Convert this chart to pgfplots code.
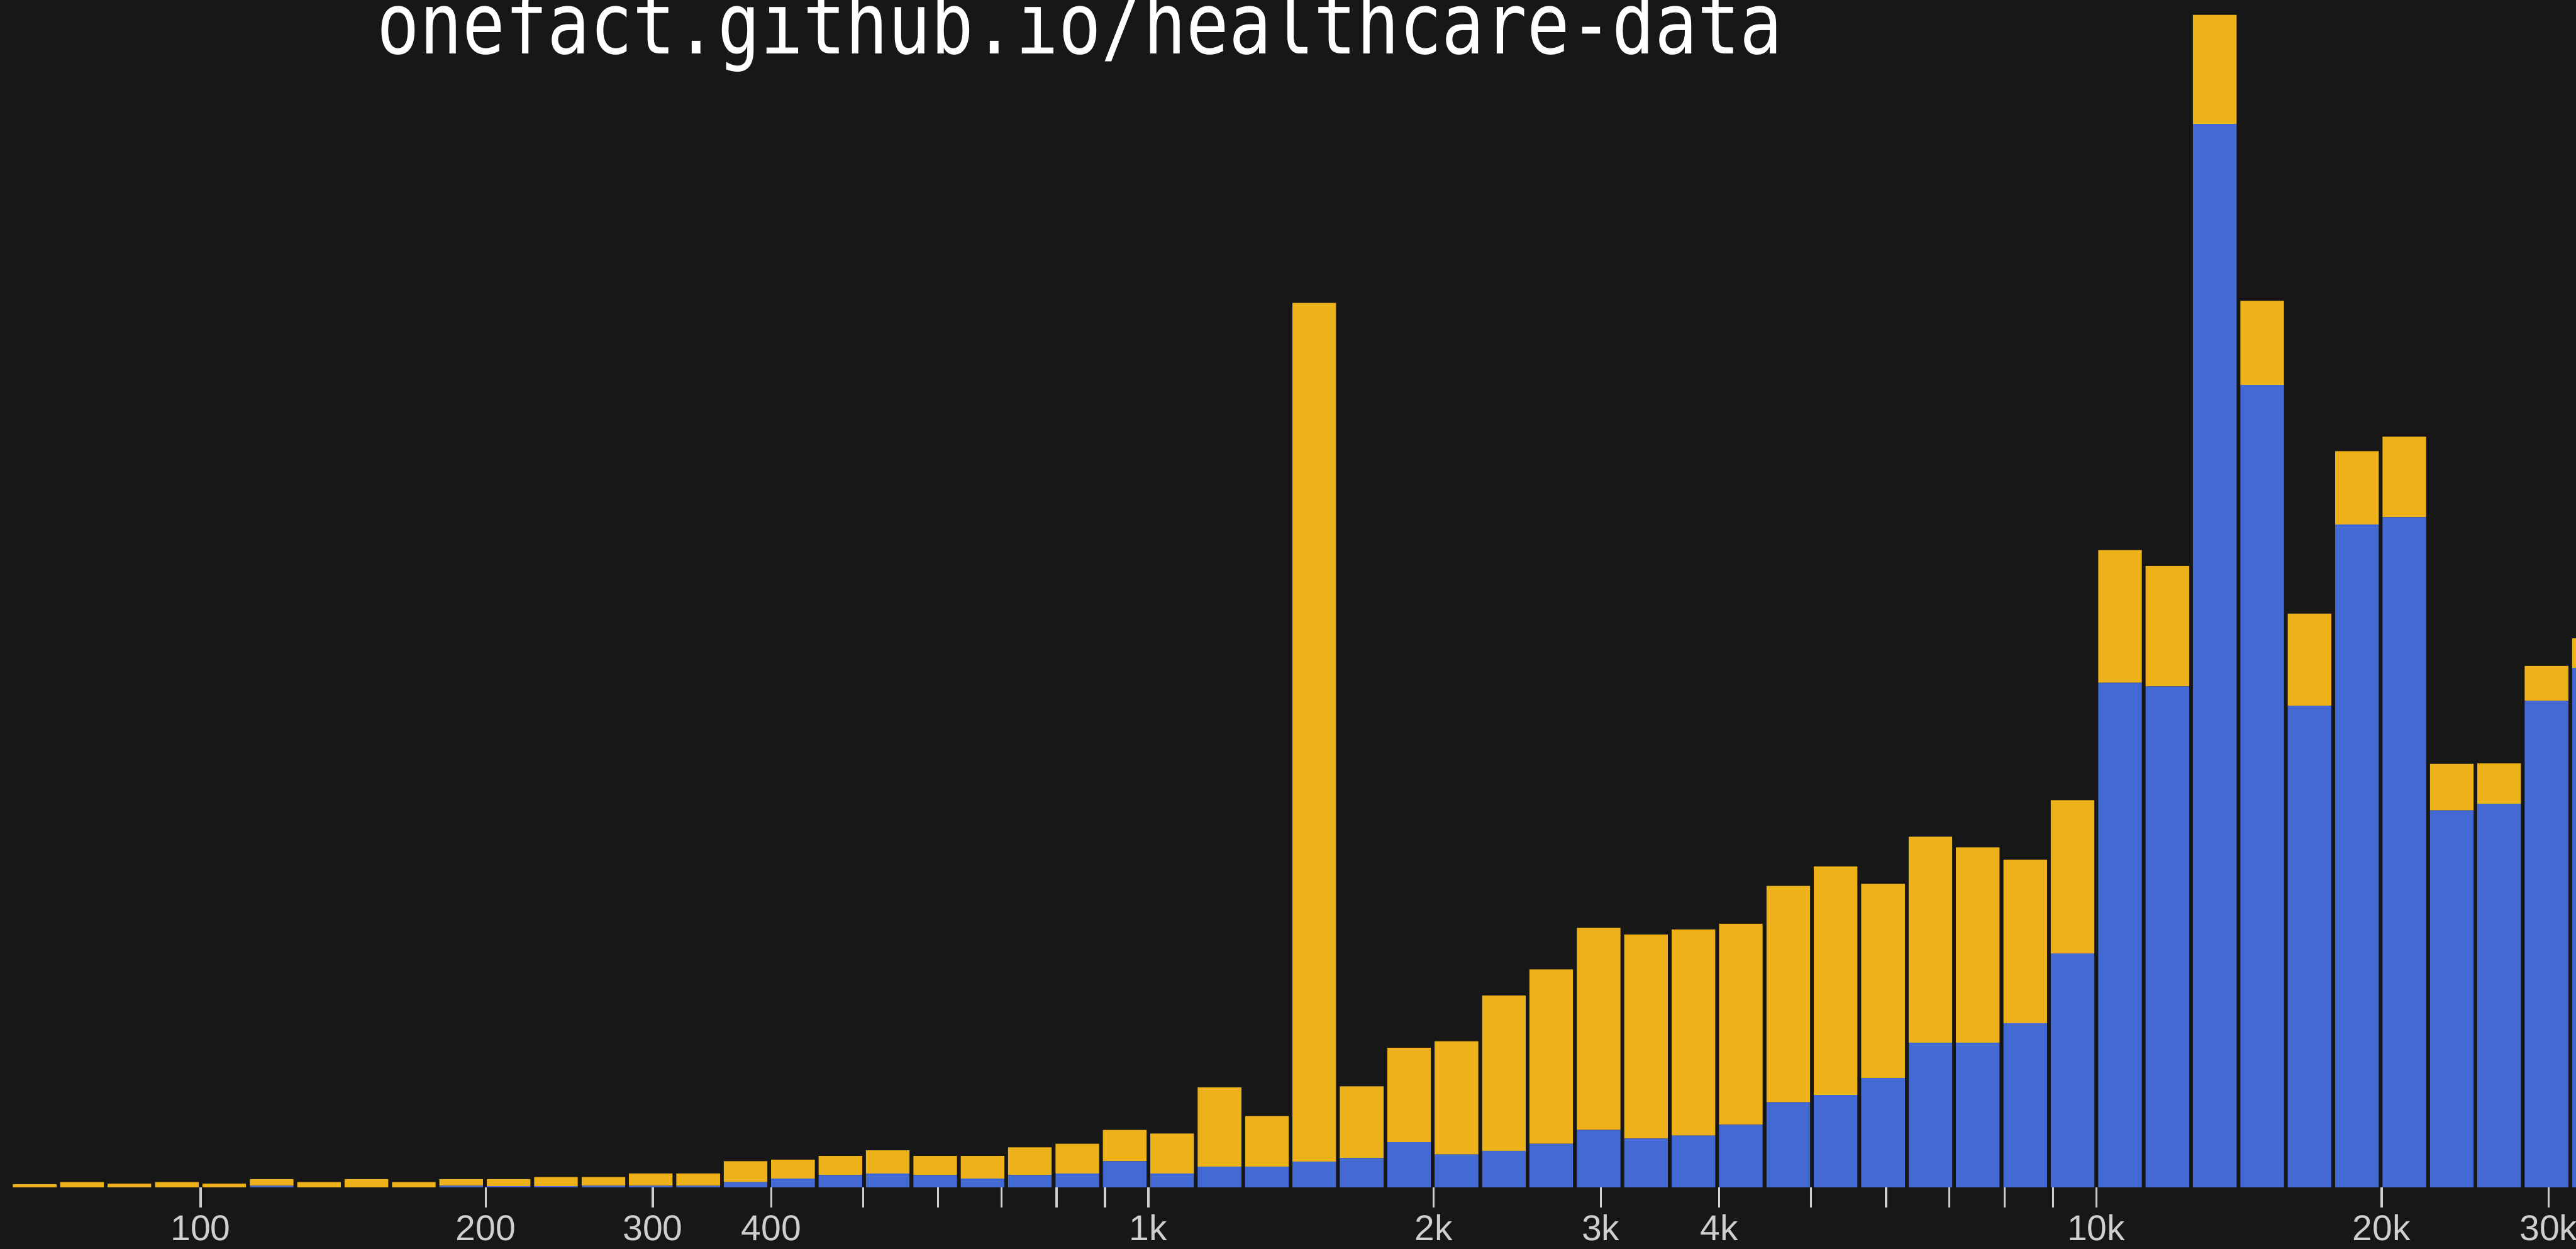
\documentclass[border=0pt]{standalone}
\usepackage{pgfplots}
\pgfplotsset{compat=1.18}
\usepackage{graphicx}
\usepackage{fontspec}
\newfontfamily\monofont{DejaVu Sans Mono}
\newfontfamily\labelfont{Liberation Sans}
\definecolor{bg}{HTML}{171717}
\definecolor{barblue}{HTML}{426AD2}
\definecolor{baryellow}{HTML}{EDB119}
\definecolor{tickgray}{HTML}{CFCFCF}
\begin{document}
\begin{tikzpicture}
\path[use as bounding box] (0,0) rectangle (502.5pt,243.6pt);
\clip (0,0) rectangle (502.5pt,243.6pt);
\fill[bg] (0,0) rectangle (502.5pt,243.6pt);
\begin{axis}[
  at={(0pt,12pt)}, anchor=south west,
  scale only axis, width=502.5pt, height=231.6pt,
  xmode=log, xmin=61.44, xmax=32076,
  ymin=0, ymax=2316,
  ybar stacked, bar width=8.5pt,
  axis line style={draw=none},
  ytick=\empty,
  xtick={100,200,300,400,500,600,700,800,900,1000,2000,3000,4000,5000,6000,7000,8000,9000,10000,20000,30000},
  xticklabels={100,200,300,400,,,,,,1k,2k,3k,4k,,,,,,10k,20k,30k},
  xminorticks=false, minor tick num=0,
  xtick pos=bottom, tick align=outside, major tick length=4pt,
  tick style={draw=tickgray, line width=0.4pt},
  xticklabel style={font=\labelfont\fontsize{7}{8}\selectfont, text=tickgray, anchor=base, yshift=-6.4pt, inner sep=0pt},
  clip=true,
]
\addplot[fill=barblue, draw=none] coordinates {
(66.834,0) (74.989,0) (84.140,0) (94.406,0) (105.93,0) (118.85,3) (133.35,0) (149.62,0) (167.88,0) (188.36,3)
(211.35,2) (237.14,2) (266.07,3) (298.54,3) (334.97,3) (375.84,10) (421.70,17) (473.15,24) (530.88,27) (595.66,24)
(668.34,17) (749.89,24) (841.40,27) (944.06,51) (1059.3,27) (1188.5,40) (1333.5,40) (1496.2,50) (1678.8,57) (1883.6,88)
(2113.5,64) (2371.4,71) (2660.7,85) (2985.4,112) (3349.7,95) (3758.4,101) (4217.0,122) (4731.5,166) (5308.8,180) (5956.6,213)
(6683.4,282) (7498.9,282) (8414.0,320) (9440.6,456) (10593,984) (11885,977) (13335,2074) (14962,1565) (16788,939) (18836,1293)
(21135,1307) (23714,735) (26607,748) (29854,949) (33497,1013)
};
\addplot[fill=baryellow, draw=none] coordinates {
(66.834,6) (74.989,10) (84.140,7) (94.406,10) (105.93,7) (118.85,13) (133.35,10) (149.62,16) (167.88,10) (188.36,13)
(211.35,14) (237.14,18) (266.07,17) (298.54,24) (334.97,24) (375.84,41) (421.70,37) (473.15,37) (530.88,45) (595.66,37)
(668.34,44) (749.89,54) (841.40,58) (944.06,61) (1059.3,78) (1188.5,155) (1333.5,99) (1496.2,1675) (1678.8,140) (1883.6,184)
(2113.5,221) (2371.4,303) (2660.7,340) (2985.4,394) (3349.7,398) (3758.4,402) (4217.0,392) (4731.5,422) (5308.8,446) (5956.6,379)
(6683.4,402) (7498.9,381) (8414.0,319) (9440.6,299) (10593,259) (11885,235) (13335,213) (14962,164) (16788,180) (18836,143)
(21135,157) (23714,91) (26607,79) (29854,68) (33497,58)
};
\end{axis}
\node[anchor=base west, inner sep=0pt, text=white] at (73.4pt,233.1pt)
  {\scalebox{1}[1.2]{\monofont\fontsize{13.8}{15}\selectfont onefact.github.io/healthcare-data}};
\end{tikzpicture}
\end{document}
